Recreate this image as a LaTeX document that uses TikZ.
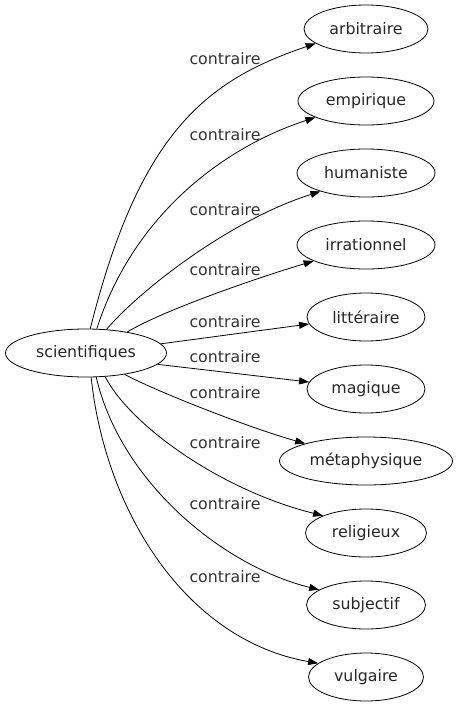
\documentclass[tikz,border=0pt]{standalone}
\usepackage{fontspec}
\setmainfont{DejaVu Sans}
\usetikzlibrary{arrows.meta,shapes.geometric}
\begin{document}
\begin{tikzpicture}[x=1pt,y=-1pt,
  word/.style={ellipse,draw,line width=0.8pt,inner sep=0pt,minimum height=48pt,font=\fontsize{15.8}{18}\selectfont,text=black!85},
  rel/.style={font=\fontsize{15.8}{18}\selectfont,inner sep=0pt,text=black!80},
  link/.style={line width=0.8pt,-{Triangle[length=10pt,width=7pt]}}]
\useasboundingbox (0,0) rectangle (459,707);
\node[word,minimum width=161pt] (s) at (86,353) {scientifiques};
\node[word,minimum width=124pt] (a1) at (366,29) {arbitraire};
\node[word,minimum width=136pt] (a2) at (366,101) {empirique};
\node[word,minimum width=138pt] (a3) at (366,173) {humaniste};
\node[word,minimum width=138pt] (a4) at (366,245) {irrationnel};
\node[word,minimum width=118pt] (a5) at (366,317) {littéraire};
\node[word,minimum width=118pt] (a6) at (366,389) {magique};
\node[word,minimum width=173pt] (a7) at (366,461) {métaphysique};
\node[word,minimum width=121pt] (a8) at (366,533) {religieux};
\node[word,minimum width=119pt] (a9) at (366,605) {subjectif};
\node[word,minimum width=115pt] (a10) at (366,677) {vulgaire};
\draw[link] (s.80) .. controls (140,130) and (208,80) .. (a1.196);
\draw[link] (s.66.5) .. controls (135,210) and (230,145) .. (a2.198);
\draw[link] (s.49) .. controls (140,290) and (230,220) .. (a3.202);
\draw[link] (s.27.6) .. controls (160,312) and (250,280) .. (a4.197.5);
\draw[link] (s.7.7) -- (a5.187.5);
\draw[link] (s.-9.2) -- (a6.173);
\draw[link] (s.-29.7) .. controls (160,393) and (250,428) .. (a7.164);
\draw[link] (s.-51.6) .. controls (130,425) and (220,490) .. (a8.158.3);
\draw[link] (s.-67.4) .. controls (120,480) and (220,565) .. (a9.162.5);
\draw[link] (s.-78) .. controls (105,510) and (185,640) .. (a10.164);
\node[rel] (l1) at (225,59) {contraire};
\node[rel] (l2) at (225,135) {contraire};
\node[rel] (l3) at (225,210) {contraire};
\node[rel] (l4) at (225,270) {contraire};
\node[rel] (l5) at (225,322) {contraire};
\node[rel] (l6) at (225,357) {contraire};
\node[rel] (l7) at (225,393) {contraire};
\node[rel] (l8) at (225,443) {contraire};
\node[rel] (l9) at (225,504) {contraire};
\node[rel] (l10) at (225,577) {contraire};
\end{tikzpicture}
\end{document}
